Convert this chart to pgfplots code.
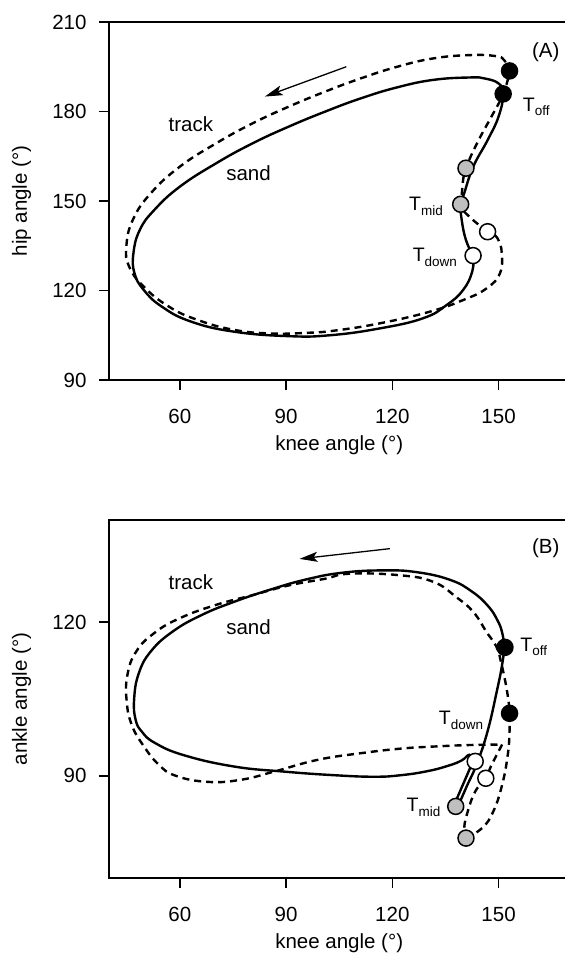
\documentclass[border=0pt]{standalone}
\usepackage{fontspec}
\setmainfont{Liberation Sans}
\usepackage{pgfplots}
\pgfplotsset{compat=1.18}
\usetikzlibrary{arrows.meta}

\newcommand{\Tsub}[1]{T\raisebox{-4.5pt}{\fontsize{13.5}{14}\selectfont #1}}

\pgfplotsset{
  panel/.style={
    scale only axis, width=460.4pt, height=358pt,
    xmin=40, xmax=170, xtick={60,90,120,150},
    axis line style={line width=1.8pt},
    tick style={line width=1.6pt, black},
    tick align=outside, major tick length=10pt,
    xtick pos=bottom, ytick pos=left,
    xticklabel style={font=\fontsize{20.5}{24}\selectfont, yshift=-16pt},
    yticklabel style={font=\fontsize{20.5}{24}\selectfont, xshift=-9pt},
    /pgf/number format/assume math mode=true,
    xlabel={knee angle (°)},
    every axis x label/.style={at={(axis description cs:0.5,-0.182)}, anchor=center, font=\fontsize{20.5}{24}\selectfont},
    every axis y label/.style={at={(axis description cs:-0.19,0.5)}, rotate=90, anchor=center, font=\fontsize{20.5}{24}\selectfont},
    clip=false,
  },
  sand/.style={black, line width=2.4pt, smooth, tension=0.75, mark=none},
  track/.style={black, line width=2.4pt, dash pattern=on 7pt off 5pt, smooth, tension=0.75, mark=none},
  mk/.style={only marks, mark=*, mark size=8pt, mark options={draw=black, line width=1.5pt, fill=#1}},
}
\tikzset{
  lbl/.style={font=\fontsize{20.5}{24}\selectfont},
  tl/.style={font=\fontsize{19.5}{22}\selectfont},
}

\begin{document}
\begin{tikzpicture}
\path[use as bounding box] (0pt,0pt) rectangle (565pt,956pt);

% ---------------- Panel A ----------------
\begin{axis}[panel, at={(109pt,576pt)}, anchor=south west,
  ymin=90, ymax=210, ytick={90,120,150,180,210}, ylabel={hip angle (°)}]
% sand (solid)
\addplot[sand] coordinates {
(142.8,131.7) (140.8,136.9) (139.6,143.6) (139.3,148.9) (140.3,152.6) (142.85,161.5)
(146.9,170.4) (150.0,178.3) (151.3,185.9) (150.0,189.4) (145.9,191.1) (141.8,191.4)
(131.6,190.6) (121.4,188.1) (111.1,184.4) (100.9,179.9) (90.7,174.9) (80.5,169.3)
(70.2,162.6) (60,154.8) (52.8,147.0) (48.7,140.3) (46.9,132.5) (47.2,125.8)
(49.8,120.2) (54.9,114.6) (63.1,109.6) (75.3,106.2) (90.7,104.7) (102.4,105.0)
(116.5,107.3) (128.7,110.7) (135.3,115.1) (140.0,120.2) (142.6,126.5) (142.8,131.7)};
% track (dashed)
\addplot[track] coordinates {
(146.9,139.7) (141.8,144.7) (139.8,148.1) (139.8,154.8) (140.8,160.9) (143.9,169.3)
(148.0,178.3) (151.0,185.0) (152.6,190.6) (153.1,193.6) (151.5,197.3) (149.0,198.6)
(141.8,198.9) (131.6,197.8) (121.4,195.0) (111.1,191.1) (100.9,186.6) (90.7,181.6)
(80.5,176.0) (70.2,169.3) (60,161.5) (51.8,152.6) (46.7,143.6) (44.9,134.7)
(45.7,128.0) (49.8,121.3) (56.9,114.6) (65.1,110.1) (75.3,106.8) (85.6,105.6)
(95.8,105.8) (104.0,106.6) (116.5,109.0) (130.6,112.9) (140.0,116.8) (146.6,120.7)
(150.4,125.8) (150.9,132.5) (150.0,136.8) (148.6,138.8) (146.9,139.7)};
% direction arrow
\addplot[black, line width=1.3pt, mark=none, -{Stealth[length=18pt,width=10pt,inset=4pt]}]
  coordinates {(107.0,195.0) (84.0,185.0)};
% events
\addplot[mk=black] coordinates {(151.3,185.9) (153.1,193.6)};
\addplot[mk={black!25}] coordinates {(139.3,148.9) (140.8,161.0)};
\addplot[mk=white] coordinates {(142.8,131.7) (146.9,139.7)};
\node[lbl, anchor=base] at (axis cs:63.1,173.2) {track};
\node[lbl, anchor=base] at (axis cs:79.4,157.0) {sand};
\node[lbl, anchor=base] at (axis cs:163.3,198.2) {(A)};
\node[tl, anchor=base west, inner sep=0pt] at (axis cs:156.8,180.0) {\Tsub{off}};
\node[tl, anchor=base east, inner sep=0pt] at (axis cs:134.3,146.8) {\Tsub{mid}};
\node[tl, anchor=base east, inner sep=0pt] at (axis cs:138.3,129.7) {\Tsub{down}};
\end{axis}

% ---------------- Panel B ----------------
\begin{axis}[panel, at={(109pt,78pt)}, anchor=south west,
  ymin=70, ymax=140, ytick={90,120}, ylabel={ankle angle (°)}]
% sand (solid)
\addplot[black, line width=2.4pt, mark=none] coordinates {(142.9,93.0) (137.4,84.2)};
\addplot[sand] coordinates {
(138.4,83.8) (141.0,87.9) (143.9,92.4) (146.9,98.7) (149.5,106.5) (151.0,111.7)
(151.5,115.1) (151.0,118.0) (149.6,120.5) (147.0,123.2) (142.5,126.0) (136.3,128.3) (126.9,129.8)
(117.4,130.15) (106.0,129.7) (95.8,128.4) (85.6,126.4) (75.3,124.0)
(66.1,121.4) (58.0,118.2) (51.8,114.3) (48.4,110.0) (47.1,105.0) (47.5,101.0)
(49.3,98.6) (53.0,96.4) (61.2,94.0) (75.3,91.8) (89.5,90.8) (103.6,90.1) (114.9,89.8)
(122.4,90.1) (130.0,90.9) (136.0,92.0) (139.6,93.0) (141.8,94.1) (142.9,93.0)};
% track (dashed)
\addplot[track] coordinates {(146.4,89.5) (143.4,86.9) (141.3,83.0) (140.3,79.8) (140.8,77.8)};
\addplot[track] coordinates {
(140.8,77.8) (145.4,79.8) (148.5,83.0) (151.0,88.2) (152.6,94.1) (153.1,98.7)
(153.1,102.2) (152.4,106.5) (150.8,111.9) (149.4,115.2) (146.6,118.1) (142.9,122.0)
(138.1,124.9) (131.6,127.9) (122.1,129.2) (108.0,129.5) (100.9,128.5) (90.7,127.2)
(80.5,125.3) (70.2,123.4) (60,120.8) (52.8,117.9) (47.7,114.3) (45.2,109.7)
(45.0,104.5) (46.5,99.8) (49.8,95.8) (54.0,92.2) (58.8,90.0) (67.8,88.8) (77.2,89.2)
(86.6,90.8) (98.9,93.1) (111.1,94.4) (122.4,95.3) (131.6,95.7)
(141.8,96.0) (151.0,96.1)};
\addplot[black, line width=2.4pt, dash pattern=on 7pt off 5pt, mark=none]
  coordinates {(151.0,96.1) (148.0,92.1) (146.4,89.5)};
% direction arrow
\addplot[black, line width=1.3pt, mark=none, -{Stealth[length=18pt,width=10pt,inset=4pt]}]
  coordinates {(119.3,134.4) (93.8,132.4)};
% events
\addplot[mk=black] coordinates {(151.8,115.1) (153.1,102.2)};
\addplot[mk={black!25}] coordinates {(137.9,84.0) (140.8,77.8)};
\addplot[mk=white] coordinates {(143.4,92.8) (146.4,89.5)};
\node[lbl, anchor=base] at (axis cs:63.1,126.5) {track};
\node[lbl, anchor=base] at (axis cs:79.4,117.7) {sand};
\node[lbl, anchor=base] at (axis cs:163.3,133.5) {(B)};
\node[tl, anchor=base west, inner sep=0pt] at (axis cs:156.1,114.3) {\Tsub{off}};
\node[tl, anchor=base west, inner sep=0pt] at (axis cs:133.1,100.0) {\Tsub{down}};
\node[tl, anchor=base east, inner sep=0pt] at (axis cs:133.6,83.0) {\Tsub{mid}};
\end{axis}
\end{tikzpicture}
\end{document}
